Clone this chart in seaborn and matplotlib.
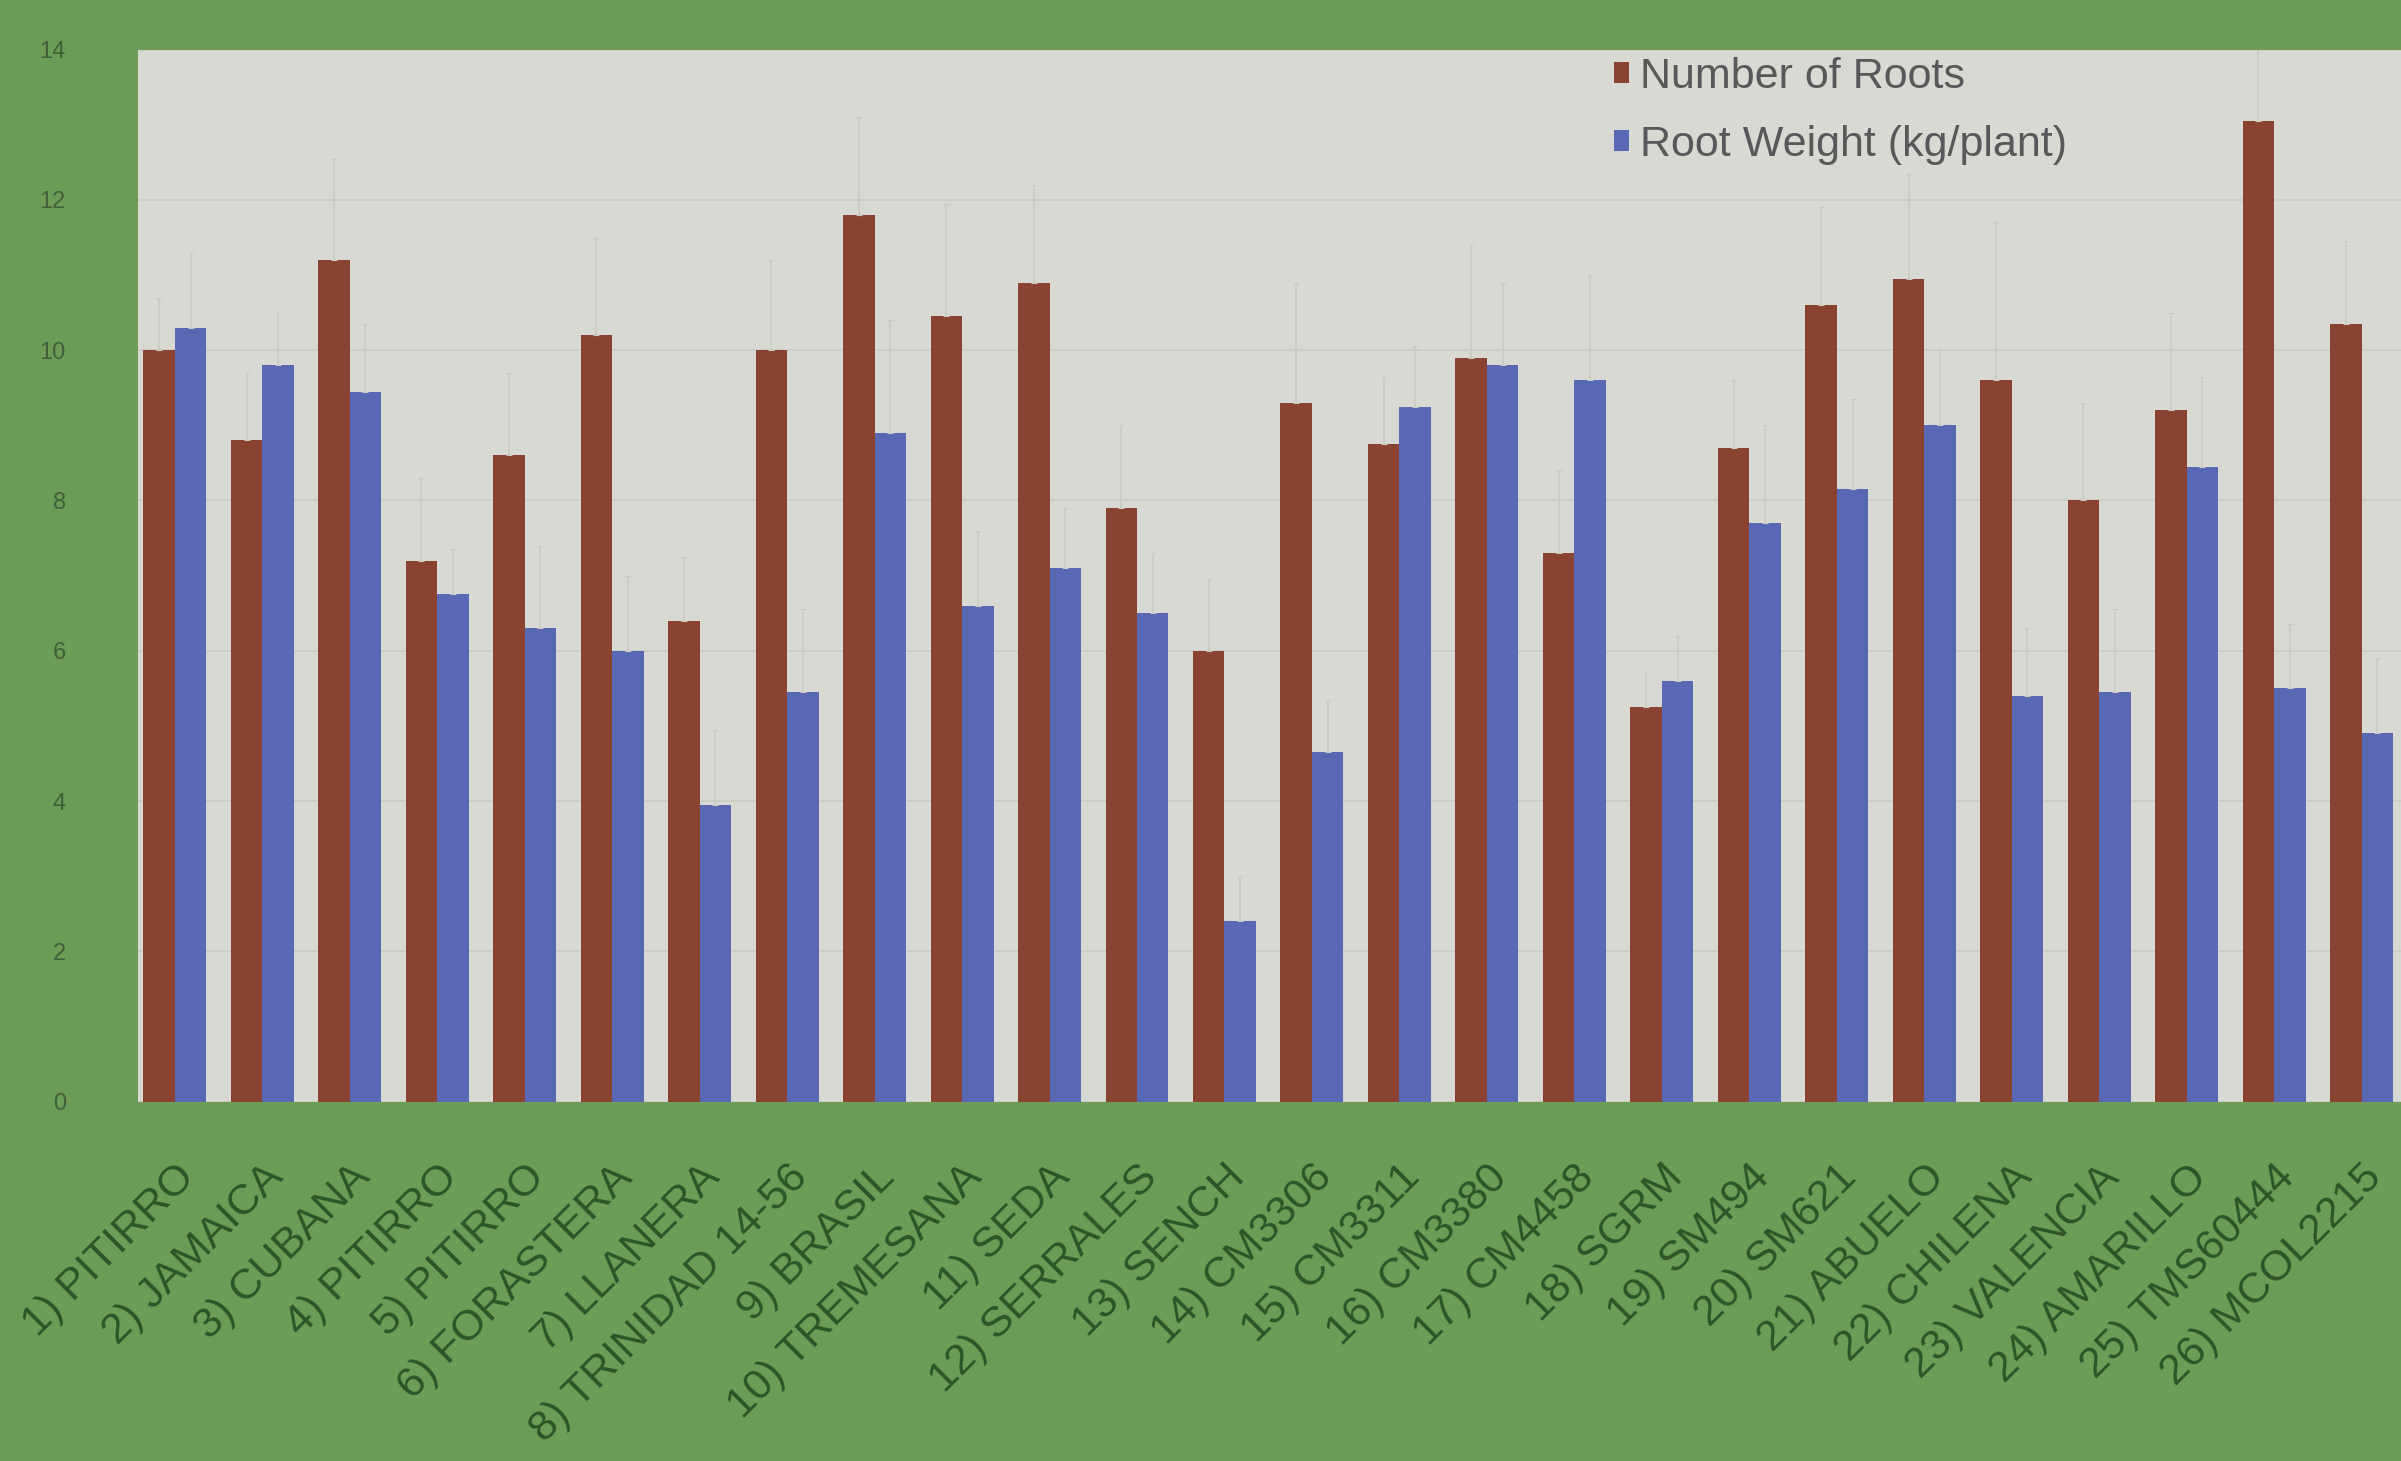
import numpy as np
import pandas as pd
import matplotlib.pyplot as plt
import seaborn as sns

# cassava varieties (labels, best guess where blurry)
varieties = ["1) PITIRRO", "2) JAMAICA", "3) CUBANA", "4) PITIRRO", "5) PITIRRO",
             "6) FORASTERA", "7) LLANERA", "8) TRINIDAD 14-56", "9) BRASIL",
             "10) TREMESANA", "11) SEDA", "12) SERRALES", "13) SENCH", "14) CM3306",
             "15) CM3311", "16) CM3380", "17) CM4458", "18) SGRM", "19) SM494",
             "20) SM621", "21) ABUELO", "22) CHILENA", "23) VALENCIA", "24) AMARILLO",
             "25) TMS60444", "26) MCOL2215"]

num_roots = [10.0, 8.8, 11.2, 7.2, 8.6, 10.2, 6.4, 10.0, 11.8, 10.45, 10.9, 7.9, 6.0,
             9.3, 8.75, 9.9, 7.3, 5.25, 8.7, 10.6, 10.95, 9.6, 8.0, 9.2, 13.05, 10.35]
root_weight = [10.3, 9.8, 9.45, 6.75, 6.3, 6.0, 3.95, 5.45, 8.9, 6.6, 7.1, 6.5, 2.4,
               4.65, 9.25, 9.8, 9.6, 5.6, 7.7, 8.15, 9.0, 5.4, 5.45, 8.45, 5.5, 4.9]

err_roots = [0.7, 0.9, 1.35, 1.1, 1.1, 1.3, 0.85, 1.2, 1.3, 1.5, 1.3, 1.1, 0.95,
             1.6, 0.9, 1.5, 1.1, 0.45, 0.9, 1.3, 1.4, 2.1, 1.3, 1.3, 1.0, 1.1]
err_weight = [1.0, 0.7, 0.9, 0.6, 1.1, 1.0, 1.0, 1.1, 1.5, 1.0, 0.8, 0.8, 0.6,
              0.7, 0.8, 1.1, 1.4, 0.6, 1.3, 1.2, 1.0, 0.9, 1.1, 1.2, 0.85, 1.0]

series_names = ["Number of Roots", "Root Weight (kg/plant)"]

df = pd.DataFrame({
    "variety": varieties * 2,
    "value": num_roots + root_weight,
    "err": err_roots + err_weight,
    "series": [series_names[0]] * len(varieties) + [series_names[1]] * len(varieties),
})

slide_green = "#6c9c55"
plot_bg = "#d9d9d3"
red = "#9a3a22"
blue = "#4a5ec4"
label_green = "#2e5428"

sns.set_style("white")
plt.rcParams["font.family"] = ["Liberation Sans", "DejaVu Sans"]

fig = plt.figure(figsize=(24.01, 14.61), dpi=100, facecolor=slide_green)
ax = fig.add_axes([0.0575, 0.246, 0.9425, 0.72])
ax.set_facecolor(plot_bg)

sns.barplot(data=df, x="variety", y="value", hue="series", palette=[red, blue],
            width=0.72, gap=0, errorbar=None, linewidth=0, ax=ax, zorder=2)

# error bars on top of each bar, using the bar positions seaborn produced
for container, name in zip(ax.containers, series_names):
    errs = df.loc[df["series"] == name, "err"].values
    xs = [p.get_x() + p.get_width() / 2 for p in container.patches]
    hs = [p.get_height() for p in container.patches]
    ax.errorbar(xs, hs, yerr=[np.zeros(len(errs)), errs], fmt="none",
                ecolor="#cacac4", elinewidth=1.2, capsize=2, capthick=0.8, zorder=3)

ax.set_ylim(0, 14)
ax.set_xlim(-0.42, 25.45)
ax.set_yticks(range(0, 15, 2))
ax.yaxis.grid(True, color="#cbcbc5", linewidth=1.2, zorder=0)
ax.set_axisbelow(True)
for s in ax.spines.values():
    s.set_visible(False)

ax.set_xlabel("")
ax.set_ylabel("")
ax.tick_params(axis="y", length=0, pad=52, labelsize=17, labelcolor="#41603a")
ax.tick_params(axis="x", length=0, pad=40)
plt.setp(ax.get_xticklabels(), rotation=45, ha="right", rotation_mode="anchor",
         fontsize=31, color=label_green)

leg = ax.legend(loc="upper left", bbox_to_anchor=(0.635, 1.03), frameon=False,
                fontsize=31, handlelength=0.35, handleheight=0.35,
                handletextpad=0.25, labelspacing=0.65)
for t in leg.get_texts():
    t.set_color("#58585a")

fig.savefig("out.png", dpi=100, facecolor=slide_green)
